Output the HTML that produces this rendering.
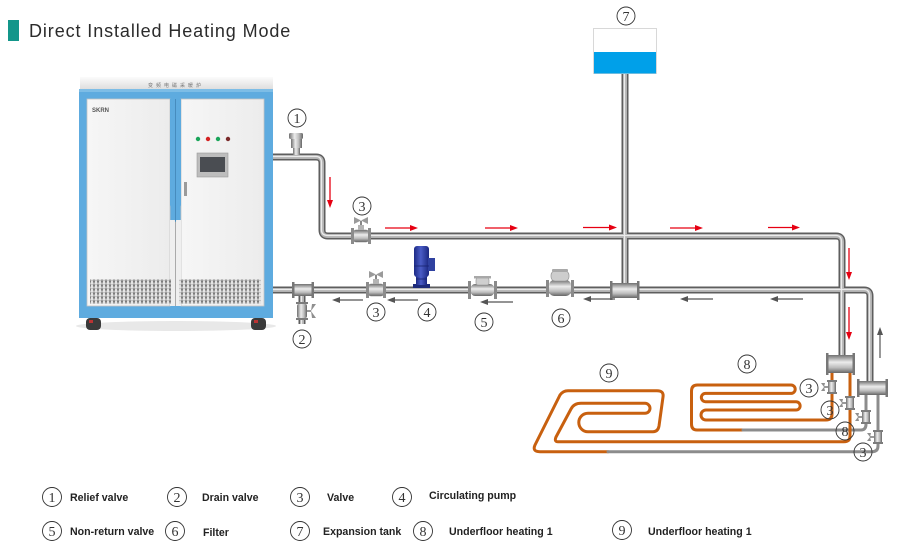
<!DOCTYPE html>
<html><head><meta charset="utf-8">
<style>
html,body{margin:0;padding:0;background:#fff;}
svg{display:block;}
.lg{font-family:"Liberation Sans",Arial,sans-serif;font-size:10.6px;font-weight:bold;fill:#222;}
.cn{font-family:"Liberation Serif",serif;font-size:14px;fill:#333;}
.tt{font-family:"Liberation Sans",Arial,sans-serif;font-size:18px;fill:#2b2b2b;letter-spacing:0.9px;}
</style></head><body>
<svg width="900" height="554" viewBox="0 0 900 554" xmlns="http://www.w3.org/2000/svg">
<defs>
 <linearGradient id="gv" x1="0" y1="0" x2="0" y2="1">
  <stop offset="0" stop-color="#707070"/><stop offset="0.4" stop-color="#ececec"/><stop offset="0.7" stop-color="#bdbdbd"/><stop offset="1" stop-color="#666"/>
 </linearGradient>
 <linearGradient id="gh" x1="0" y1="0" x2="1" y2="0">
  <stop offset="0" stop-color="#707070"/><stop offset="0.4" stop-color="#ececec"/><stop offset="0.7" stop-color="#bdbdbd"/><stop offset="1" stop-color="#666"/>
 </linearGradient>
 <linearGradient id="gb" x1="0" y1="0" x2="1" y2="0">
  <stop offset="0" stop-color="#1c2a85"/><stop offset="0.45" stop-color="#4a5cc6"/><stop offset="1" stop-color="#1a2780"/>
 </linearGradient>
 <linearGradient id="topg" x1="0" y1="0" x2="0" y2="1">
  <stop offset="0" stop-color="#fbfbfb"/><stop offset="1" stop-color="#dedede"/>
 </linearGradient>
 <linearGradient id="door" x1="0" y1="0" x2="1" y2="0">
  <stop offset="0" stop-color="#f6f6f6"/><stop offset="1" stop-color="#ececec"/>
 </linearGradient>
 <pattern id="vent" width="4" height="4" patternUnits="userSpaceOnUse">
  <rect width="4" height="4" fill="#e4e4e4"/>
  <path d="M1,0 L2,3 L3,0" stroke="#6f6f6f" stroke-width="0.9" fill="none"/>
 </pattern>
 <g id="valve">
  <rect x="-8" y="-6" width="16" height="12" rx="3" fill="url(#gv)" stroke="#7a7a7a" stroke-width="0.5"/>
  <rect x="-10" y="-8" width="3" height="16" fill="#8c8c8c"/>
  <rect x="7" y="-8" width="3" height="16" fill="#8c8c8c"/>
  <rect x="-3" y="-11" width="6" height="5" fill="#b4b4b4"/>
  <rect x="-1" y="-15" width="2" height="4" fill="#888"/>
  <polygon points="-7,-19 0,-15.5 7,-19 7,-12 0,-15.5 -7,-12" fill="#9a9a9a"/>
 </g>
 <g id="sv">
  <rect x="-4" y="-6" width="8" height="12" fill="url(#gh)"/>
  <rect x="-5" y="-7" width="10" height="2" fill="#7c7c7c"/>
  <rect x="-5" y="5" width="10" height="2" fill="#7c7c7c"/>
  <rect x="-8" y="-1" width="4" height="2" fill="#999"/>
  <polygon points="-11,-4 -8,0 -11,4 -7,4 -8,0 -7,-4" fill="#8f8f8f"/>
 </g>
</defs>

<!-- Title -->
<rect x="8" y="20" width="11" height="21" fill="#13968a"/>
<text x="29" y="37" class="tt">Direct Installed Heating Mode</text>

<!-- Boiler -->
<ellipse cx="176" cy="326" rx="100" ry="5" fill="#e8e8e8"/>
<rect x="80" y="77" width="193" height="12" fill="url(#topg)"/>
<text x="176" y="87" text-anchor="middle" font-family="Noto Sans CJK SC, sans-serif" font-size="5" fill="#777" letter-spacing="3">变频电磁采暖炉</text>
<rect x="79" y="89" width="194" height="229" fill="#5eabdf"/>
<rect x="79" y="89" width="194" height="3" fill="#7dbde6"/>
<rect x="87" y="99" width="83" height="207" fill="url(#door)" stroke="#c4c4c4" stroke-width="0.8"/>
<rect x="181" y="99" width="83" height="207" fill="url(#door)" stroke="#c4c4c4" stroke-width="0.8"/>
<rect x="170" y="220" width="11" height="86" fill="#efefef"/>
<polygon points="170,99 181,99 181,205 175.5,222 170,205" fill="#5eabdf"/>
<line x1="175.5" y1="99" x2="175.5" y2="306" stroke="#3d7fb0" stroke-width="0.7"/>
<line x1="175.5" y1="222" x2="175.5" y2="306" stroke="#aaa" stroke-width="1"/>
<rect x="90" y="279" width="81" height="25" fill="url(#vent)"/>
<rect x="179" y="279" width="82" height="25" fill="url(#vent)"/>
<text x="92" y="112" font-family="Liberation Sans, sans-serif" font-size="6" font-weight="bold" fill="#555">SKRN</text>
<circle cx="198" cy="139" r="2.2" fill="#1aa55a"/>
<circle cx="208" cy="139" r="2.2" fill="#d42222"/>
<circle cx="218" cy="139" r="2.2" fill="#1aa55a"/>
<circle cx="228" cy="139" r="2.2" fill="#7a2a2a"/>
<rect x="197" y="153" width="31" height="24" fill="#bdbdbd" stroke="#9a9a9a" stroke-width="0.6"/>
<rect x="200" y="157" width="25" height="15" fill="#4a4d52"/>
<rect x="184" y="182" width="3" height="14" fill="#9b9b9b"/>
<rect x="86" y="318" width="15" height="12" rx="4" fill="#3a3a3a"/>
<rect x="89" y="320" width="4" height="3" fill="#b33"/>
<rect x="251" y="318" width="15" height="12" rx="4" fill="#3a3a3a"/>
<rect x="254" y="320" width="4" height="3" fill="#b33"/>

<!-- Pipes -->
<g fill="none" stroke-linejoin="round">
 <g stroke="#5e5e5e" stroke-width="7">
  <path d="M273,157 H316 Q322,157 322,163 V230 Q322,236 328,236 H836 Q842,236 842,242 V356"/>
  <path d="M273,290 H864 Q870,290 870,296 V382"/>
  <path d="M625,74 V285"/>
  <path d="M302,296 V324"/>
 </g>
 <g stroke="#b3b3b3" stroke-width="4">
  <path d="M273,157 H316 Q322,157 322,163 V230 Q322,236 328,236 H836 Q842,236 842,242 V356"/>
  <path d="M273,290 H864 Q870,290 870,296 V382"/>
  <path d="M625,74 V285"/>
  <path d="M302,296 V324"/>
 </g>
 <g stroke="#ececec" stroke-width="1.3">
  <path d="M273,156.5 H316 Q321.5,156.5 321.5,163 V230 Q321.5,235.5 328,235.5 H836 Q841.5,235.5 841.5,242 V356"/>
  <path d="M273,289.5 H864 Q869.5,289.5 869.5,296 V382"/>
  <path d="M624.5,74 V285"/>
  <path d="M301.5,296 V324"/>
 </g>
</g>

<!-- Expansion tank -->
<rect x="593.5" y="28.5" width="63" height="45" fill="#fff" stroke="#d8d8d8" stroke-width="1"/>
<rect x="594" y="52" width="62" height="21.5" fill="#00a0e9"/>

<!-- Underfloor loops -->
<g fill="none" stroke-width="3" stroke-linecap="round" stroke-linejoin="round">
 <path stroke="#c8600f" d="M743,430 H697 Q691.5,430 691.5,424 V391 Q691.5,385 697.5,385 H791 A4.2,4.2 0 0 1 791,393.4 H705.5 A4.15,4.15 0 0 0 705.5,401.7 H796 A4.15,4.15 0 0 1 796,410 H706 A5,5 0 0 0 706,420 H826 Q832,420 832,414 V373"/>
 <path stroke="#8c8c8c" d="M743,430 H861 Q866,430 866,424 V395"/>
 <path stroke="#c8600f" d="M850,373 V436 Q850,441.7 844,441.7 H558 Q554,441.7 556,437 L571,409 Q574,403.3 581,403.3 H645 A5,5 0 0 1 645,413.3 H588 A9.2,9.2 0 0 0 588,431.7 H653 Q658,431.7 659,426 L663,397 Q664,390.7 657,390.7 H568 Q563,390.7 560,395 L535,445 Q532,451.7 540,451.7 H608"/>
 <path stroke="#8c8c8c" d="M608,451.7 H872 Q878,451.7 878,446 V395"/>
</g>

<!-- Fittings -->
<!-- expansion T -->
<rect x="611" y="283" width="28" height="15" fill="url(#gv)"/>
<rect x="610" y="281" width="2.5" height="19" fill="#777"/>
<rect x="637" y="281" width="2.5" height="19" fill="#777"/>
<!-- drain T -->
<rect x="293" y="284" width="20" height="12" fill="url(#gv)"/>
<rect x="292" y="282" width="2.5" height="16" fill="#777"/>
<rect x="311.5" y="282" width="2.5" height="16" fill="#777"/>
<!-- drain valve -->
<rect x="297" y="304" width="10" height="14" rx="2" fill="url(#gh)"/>
<rect x="296" y="302" width="12" height="2" fill="#7c7c7c"/>
<rect x="296" y="318" width="12" height="2" fill="#7c7c7c"/>
<rect x="307" y="310" width="4" height="2" fill="#999"/>
<polygon points="316,304 311,311 316,318 312,318 311,311 312,304" fill="#8f8f8f"/>
<!-- relief valve -->
<rect x="293" y="148" width="7" height="7" fill="url(#gh)"/>
<rect x="291" y="139" width="11" height="9" fill="url(#gh)"/>
<rect x="289" y="133" width="14" height="6" rx="1.5" fill="url(#gh)"/>
<!-- valves -->
<use href="#valve" transform="translate(361,236)"/>
<use href="#valve" transform="translate(376,290)"/>
<!-- pump -->
<rect x="413" y="284" width="17" height="4" fill="#1d2b7a"/>
<rect x="416" y="276" width="11" height="9" fill="url(#gb)"/>
<rect x="414" y="246" width="15" height="31" rx="3" fill="url(#gb)"/>
<rect x="428" y="258" width="7" height="13" fill="#2f41a0"/>
<line x1="414" y1="266" x2="429" y2="266" stroke="#17226e" stroke-width="0.8"/>
<line x1="416" y1="279" x2="427" y2="279" stroke="#17226e" stroke-width="0.8"/>
<!-- non-return valve -->
<rect x="471" y="284" width="23" height="12" rx="4" fill="url(#gv)"/>
<rect x="468" y="281" width="3" height="18" fill="#8a8a8a"/>
<rect x="494" y="281" width="3" height="18" fill="#8a8a8a"/>
<rect x="476" y="278" width="13" height="7" rx="2" fill="#cfcfcf" stroke="#8a8a8a" stroke-width="0.6"/>
<rect x="474" y="276" width="17" height="2.5" fill="#a8a8a8"/>
<!-- filter -->
<rect x="549" y="280" width="22" height="16" rx="5" fill="url(#gv)"/>
<rect x="546" y="280" width="3" height="17" fill="#8a8a8a"/>
<rect x="571" y="280" width="3" height="17" fill="#8a8a8a"/>
<rect x="551" y="271" width="18" height="10" rx="4" fill="#cdcdcd" stroke="#888" stroke-width="0.6"/>
<rect x="552" y="269" width="16" height="3" rx="1" fill="#a9a9a9"/>
<!-- right T fittings -->
<rect x="827" y="355" width="27" height="18" fill="url(#gv)"/>
<rect x="826" y="353" width="2.5" height="22" fill="#777"/>
<rect x="852.5" y="353" width="2.5" height="22" fill="#777"/>
<rect x="858" y="381" width="29" height="14" fill="url(#gv)"/>
<rect x="857" y="379" width="2.5" height="18" fill="#777"/>
<rect x="885.5" y="379" width="2.5" height="18" fill="#777"/>
<use href="#sv" transform="translate(832,387)"/>
<use href="#sv" transform="translate(850,403)"/>
<use href="#sv" transform="translate(866,417)"/>
<use href="#sv" transform="translate(878,437)"/>

<!-- Red arrows -->
<g stroke="#e60012" stroke-width="1.3" fill="#e60012">
 <line x1="385" y1="228" x2="411" y2="228"/><polygon points="418,228 410,225 410,231" stroke="none"/>
 <line x1="485" y1="228" x2="511" y2="228"/><polygon points="518,228 510,225 510,231" stroke="none"/>
 <line x1="583" y1="227.5" x2="610" y2="227.5"/><polygon points="617,227.5 609,224.5 609,230.5" stroke="none"/>
 <line x1="670" y1="228" x2="696" y2="228"/><polygon points="703,228 695,225 695,231" stroke="none"/>
 <line x1="768" y1="227.5" x2="793" y2="227.5"/><polygon points="800,227.5 792,224.5 792,230.5" stroke="none"/>
 <line x1="330" y1="177" x2="330" y2="201"/><polygon points="330,208 327,200 333,200" stroke="none"/>
 <line x1="849" y1="248" x2="849" y2="273"/><polygon points="849,280 846,272 852,272" stroke="none"/>
 <line x1="849" y1="307" x2="849" y2="333"/><polygon points="849,340 846,332 852,332" stroke="none"/>
</g>
<!-- Dark arrows -->
<g stroke="#555" stroke-width="1.2" fill="#555">
 <line x1="339" y1="300" x2="363" y2="300"/><polygon points="332,300 340,297 340,303" stroke="none"/>
 <line x1="394" y1="300" x2="418" y2="300"/><polygon points="387,300 395,297 395,303" stroke="none"/>
 <line x1="487" y1="302" x2="513" y2="302"/><polygon points="480,302 488,299 488,305" stroke="none"/>
 <line x1="590" y1="299" x2="615" y2="299"/><polygon points="583,299 591,296 591,302" stroke="none"/>
 <line x1="687" y1="299" x2="713" y2="299"/><polygon points="680,299 688,296 688,302" stroke="none"/>
 <line x1="777" y1="299" x2="803" y2="299"/><polygon points="770,299 778,296 778,302" stroke="none"/>
 <line x1="880" y1="335" x2="880" y2="358"/><polygon points="880,327 877,335 883,335" stroke="none"/>
</g>

<!-- Diagram labels -->
<g fill="none" stroke="#333" stroke-width="0.9">
 <circle cx="297" cy="118" r="9"/>
 <circle cx="362" cy="206" r="9"/>
 <circle cx="302" cy="339" r="9"/>
 <circle cx="376" cy="312" r="9"/>
 <circle cx="427" cy="312" r="9"/>
 <circle cx="484" cy="322" r="9"/>
 <circle cx="561" cy="318" r="9"/>
 <circle cx="626" cy="16" r="9"/>
 <circle cx="609" cy="373" r="9"/>
 <circle cx="747" cy="364" r="9"/>
 <circle cx="809" cy="388" r="9"/>
 <circle cx="830" cy="410" r="9"/>
 <circle cx="845" cy="431" r="9"/>
 <circle cx="863" cy="452" r="9"/>
</g>
<g class="cn" text-anchor="middle">
 <text x="297" y="123">1</text>
 <text x="362" y="211">3</text>
 <text x="302" y="344">2</text>
 <text x="376" y="317">3</text>
 <text x="427" y="317">4</text>
 <text x="484" y="327">5</text>
 <text x="561" y="323">6</text>
 <text x="626" y="21">7</text>
 <text x="609" y="378">9</text>
 <text x="747" y="369">8</text>
 <text x="809" y="393">3</text>
 <text x="830" y="415">3</text>
 <text x="845" y="436">8</text>
 <text x="863" y="457">3</text>
</g>

<!-- Legend -->
<g fill="none" stroke="#333" stroke-width="0.9">
 <circle cx="52" cy="497" r="9.5"/>
 <circle cx="177" cy="497" r="9.5"/>
 <circle cx="300" cy="497" r="9.5"/>
 <circle cx="402" cy="497" r="9.5"/>
 <circle cx="52" cy="531" r="9.5"/>
 <circle cx="175" cy="531" r="9.5"/>
 <circle cx="300" cy="531" r="9.5"/>
 <circle cx="423" cy="531" r="9.5"/>
 <circle cx="622" cy="530" r="9.5"/>
</g>
<g class="cn" text-anchor="middle">
 <text x="52" y="502">1</text>
 <text x="177" y="502">2</text>
 <text x="300" y="502">3</text>
 <text x="402" y="502">4</text>
 <text x="52" y="536">5</text>
 <text x="175" y="536">6</text>
 <text x="300" y="536">7</text>
 <text x="423" y="536">8</text>
 <text x="622" y="535">9</text>
</g>
<g class="lg">
 <text x="70" y="501">Relief valve</text>
 <text x="202" y="501">Drain valve</text>
 <text x="327" y="501">Valve</text>
 <text x="429" y="499">Circulating pump</text>
 <text x="70" y="535">Non-return valve</text>
 <text x="203" y="536">Filter</text>
 <text x="323" y="535">Expansion tank</text>
 <text x="449" y="535">Underfloor heating 1</text>
 <text x="648" y="535">Underfloor heating 1</text>
</g>
</svg>
</body></html>
